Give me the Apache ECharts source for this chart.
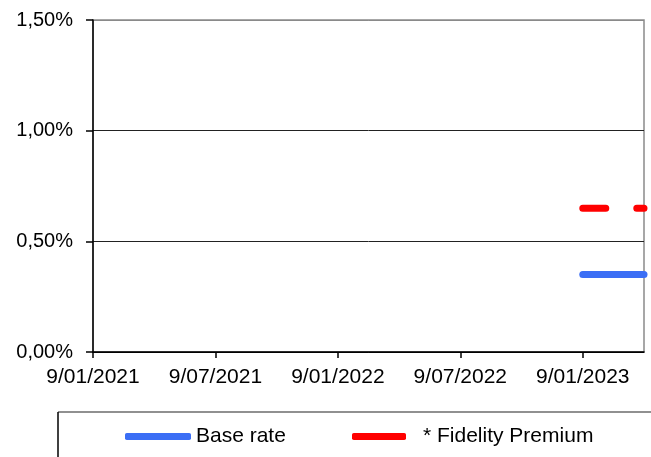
<!DOCTYPE html>
<html>
<head>
<meta charset="utf-8">
<script src="https://cdn.jsdelivr.net/npm/echarts@6/dist/echarts.min.js"></script>
<style>
html,body{margin:0;padding:0;background:#fff;}
#chart{width:651px;height:457px;}
</style>
</head>
<body>
<div id="chart"></div>
<script>
// Data (dates as d/mm/yyyy)
const axisStart = '9/01/2021';
const axisEnd = '9/04/2023';
const seriesDates = ['9/01/2023', '9/04/2023'];
const baseRate = [0.35, 0.35];
const fidelityPremium = [0.65, 0.65];
const yTicks = [0, 0.5, 1.0, 1.5];
const seriesNames = ['Base rate', '* Fidelity Premium'];

function monthIndex(s) {
  const p = s.split('/');
  return (parseInt(p[2], 10) - 2021) * 12 + (parseInt(p[1], 10) - 1);
}
function monthLabel(v) {
  const y = 2021 + Math.floor(v / 12);
  const m = (v % 12) + 1;
  return '9/' + (m < 10 ? '0' + m : m) + '/' + y;
}
const xs = seriesDates.map(monthIndex);
const font = 'Liberation Sans, Arial, sans-serif';

const chart = echarts.init(document.getElementById('chart'));
chart.setOption({
  animation: false,
  backgroundColor: '#fff',
  grid: { left: 93, right: 7, top: 20, bottom: 105, show: true, borderColor: '#8a8a8a', borderWidth: 1.5 },
  xAxis: {
    type: 'value',
    min: monthIndex(axisStart),
    max: monthIndex(axisEnd),
    interval: 6,
    axisLine: { show: true, onZero: false, lineStyle: { color: '#000', width: 1.5 } },
    axisTick: { show: true, length: 6, lineStyle: { color: '#000', width: 1.5 } },
    axisLabel: { formatter: monthLabel, color: '#000', fontSize: 21, fontFamily: font, margin: 15, showMaxLabel: false },
    splitLine: { show: false }
  },
  yAxis: {
    type: 'value',
    min: yTicks[0],
    max: yTicks[yTicks.length - 1],
    interval: 0.5,
    axisLine: { show: true, lineStyle: { color: '#000', width: 1.5 } },
    axisTick: { show: true, length: 7, lineStyle: { color: '#000', width: 1.5 } },
    axisLabel: { formatter: v => v.toFixed(2).replace('.', ',') + '%', color: '#000', fontSize: 20, fontFamily: font, margin: 20 },
    splitLine: { show: true, lineStyle: { color: ['#000', '#222', '#222', '#8a8a8a'], width: 1 } }
  },
  legend: [
    {
      data: [seriesNames[0]], left: 125, top: 426, padding: 0,
      itemWidth: 66, itemHeight: 7, icon: 'roundRect',
      textStyle: { color: '#000', fontSize: 21, fontFamily: font }
    },
    {
      data: [seriesNames[1]], left: 352, top: 426, padding: 0,
      itemWidth: 54, itemHeight: 7, icon: 'roundRect',
      textStyle: { color: '#000', fontSize: 21, fontFamily: font, padding: [0, 0, 0, 12] }
    }
  ],
  graphic: [
    { type: 'line', shape: { x1: 58, y1: 412, x2: 651, y2: 412 }, style: { stroke: '#6b6b6b', lineWidth: 1.5 } },
    { type: 'line', shape: { x1: 58, y1: 412, x2: 58, y2: 457 }, style: { stroke: '#000', lineWidth: 1.5 } }
  ],
  series: [
    {
      name: seriesNames[0], type: 'line', showSymbol: false, symbol: 'none', clip: true,
      data: xs.map((x, i) => [x, baseRate[i]]),
      itemStyle: { color: '#3b6ef5' },
      lineStyle: { color: '#3b6ef5', width: 7, cap: 'round' }
    },
    {
      name: seriesNames[1], type: 'line', showSymbol: false, symbol: 'none', clip: true,
      data: xs.map((x, i) => [x, fidelityPremium[i]]),
      itemStyle: { color: '#ff0000' },
      lineStyle: { color: '#ff0000', width: 7, cap: 'round', type: [23, 31] }
    }
  ]
});
</script>
</body>
</html>
